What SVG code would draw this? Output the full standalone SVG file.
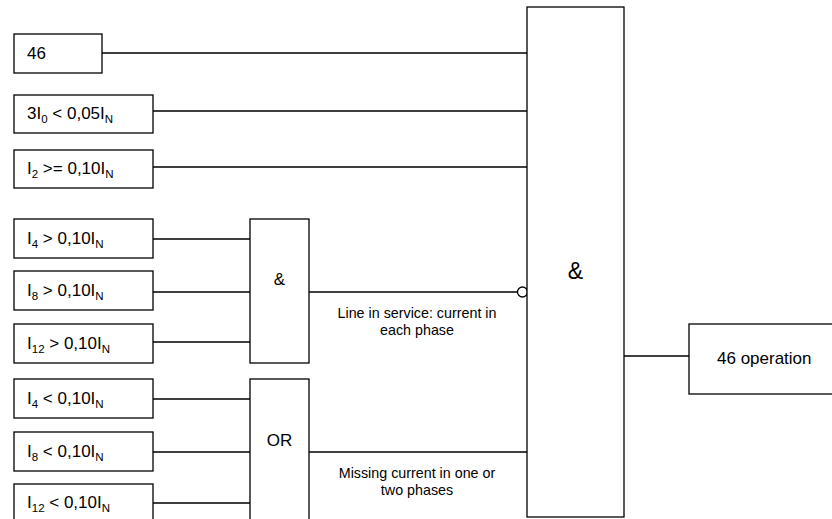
<svg xmlns="http://www.w3.org/2000/svg" width="832" height="519" viewBox="0 0 832 519">
<style>
.box{fill:#fff;stroke:#000;stroke-width:1.3}
.ln{fill:none;stroke:#000;stroke-width:1.3}
.t{font-family:"Liberation Sans",Arial,sans-serif;font-size:17px;fill:#000}
.s{font-size:11.5px}
.lab{font-family:"Liberation Sans",Arial,sans-serif;font-size:14.3px;fill:#000;text-anchor:middle}
</style>
<rect width="832" height="519" fill="#fff"/>
<g id="connectors">
<path class="ln" d="M102 53H527M153 111H527M153 167H527"/>
<path class="ln" d="M153 239H250M153 292H250M153 342H250"/>
<path class="ln" d="M153 399H250M153 452H250M153 503H250"/>
<path class="ln" d="M309 292H517.5"/>
<circle class="box" cx="522.5" cy="292" r="5"/>
<path class="ln" d="M309 452H527"/>
<path class="ln" d="M624 356H689"/>
</g>
<g id="n46"><rect class="box" x="14" y="34" width="88" height="39"/><text class="t" x="27" y="59">46</text></g>
<g id="n3i0"><rect class="box" x="14" y="95" width="139" height="38"/><text class="t" x="27" y="119">3I<tspan class="s" dy="4">0</tspan><tspan dy="-4"> &lt; 0,05I</tspan><tspan class="s" dy="4">N</tspan></text></g>
<g id="ni2"><rect class="box" x="14" y="150" width="139" height="38"/><text class="t" x="27" y="174">I<tspan class="s" dy="4">2</tspan><tspan dy="-4"> &gt;= 0,10I</tspan><tspan class="s" dy="4">N</tspan></text></g>
<g id="ni4g"><rect class="box" x="14" y="219" width="139" height="39"/><text class="t" x="27" y="244">I<tspan class="s" dy="4">4</tspan><tspan dy="-4"> &gt; 0,10I</tspan><tspan class="s" dy="4">N</tspan></text></g>
<g id="ni8g"><rect class="box" x="14" y="271" width="139" height="39"/><text class="t" x="27" y="296">I<tspan class="s" dy="4">8</tspan><tspan dy="-4"> &gt; 0,10I</tspan><tspan class="s" dy="4">N</tspan></text></g>
<g id="ni12g"><rect class="box" x="14" y="324" width="139" height="39"/><text class="t" x="27" y="349">I<tspan class="s" dy="4">12</tspan><tspan dy="-4"> &gt; 0,10I</tspan><tspan class="s" dy="4">N</tspan></text></g>
<g id="ni4l"><rect class="box" x="14" y="379" width="139" height="39"/><text class="t" x="27" y="404">I<tspan class="s" dy="4">4</tspan><tspan dy="-4"> &lt; 0,10I</tspan><tspan class="s" dy="4">N</tspan></text></g>
<g id="ni8l"><rect class="box" x="14" y="432" width="139" height="39"/><text class="t" x="27" y="457">I<tspan class="s" dy="4">8</tspan><tspan dy="-4"> &lt; 0,10I</tspan><tspan class="s" dy="4">N</tspan></text></g>
<g id="ni12l"><rect class="box" x="14" y="484" width="139" height="39"/><text class="t" x="27" y="508">I<tspan class="s" dy="4">12</tspan><tspan dy="-4"> &lt; 0,10I</tspan><tspan class="s" dy="4">N</tspan></text></g>
<g id="andg"><rect class="box" x="250" y="219" width="59" height="144"/><text class="t" x="279.5" y="285" text-anchor="middle">&amp;</text></g>
<g id="org"><rect class="box" x="250" y="379" width="59" height="150"/><text class="t" x="279.5" y="446" text-anchor="middle">OR</text></g>
<g id="bigand"><rect class="box" x="527" y="7" width="97" height="510"/><text class="t" x="575.5" y="279" text-anchor="middle" style="font-size:23px">&amp;</text></g>
<g id="out"><rect class="box" x="689" y="324" width="150" height="70"/><text class="t" x="717" y="364">46 operation</text></g>
<g id="labels">
<text class="lab" x="417" y="318">Line in service: current in</text>
<text class="lab" x="417" y="335">each phase</text>
<text class="lab" x="417" y="478">Missing current in one or</text>
<text class="lab" x="417" y="495">two phases</text>
</g>
</svg>
